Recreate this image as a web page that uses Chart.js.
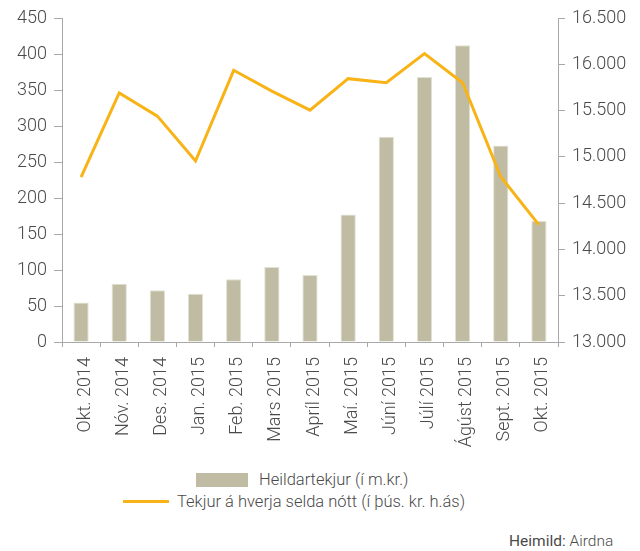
<!DOCTYPE html>
<html lang="is">
<head>
<meta charset="utf-8">
<title>Heildartekjur og tekjur á selda nótt</title>
<script src="https://cdn.jsdelivr.net/npm/chart.js@4.4.1/dist/chart.umd.min.js"></script>
<style>
  body { margin: 0; background: #fff; font-family: Roboto, "Noto Sans", sans-serif; color: #4a4a4a; }
  #wrap { position: relative; width: 640px; height: 551px; }
  #chartBox { position: absolute; left: 0; top: 0; width: 640px; height: 460px; }
  .legend-row { position: absolute; display: flex; align-items: center; font-size: 16.5px; font-weight: 300; white-space: nowrap; }
  .swatch-bar { width: 52px; height: 14px; background: #bfbca3; margin-right: 11px; }
  .swatch-line { width: 46px; height: 3px; background: #f8b316; margin-right: 8px; }
  #source { position: absolute; left: 509px; top: 532px; font-size: 15.5px; color: #4a4a4a; }
  #source span { font-weight: 300; }
</style>
</head>
<body>
<div id="wrap">
  <div id="chartBox"><canvas id="chart"></canvas></div>
  <div class="legend-row" style="left:196px; top:470px;"><div class="swatch-bar"></div>Heildartekjur (í m.kr.)</div>
  <div class="legend-row" style="left:123px; top:492px;"><div class="swatch-line"></div>Tekjur á hverja selda nótt (í þús. kr. h.ás)</div>
  <div id="source">Heimild: <span>Airdna</span></div>
</div>
<script>
// Mánuðir
const months = [
  'Okt. 2014', 'Nóv. 2014', 'Des. 2014', 'Jan. 2015', 'Feb. 2015', 'Mars 2015', 'Apríl 2015',
  'Maí. 2015', 'Júní 2015', 'Júlí 2015', 'Ágúst 2015', 'Sept. 2015', 'Okt. 2015',
];
// Heildartekjur (m.kr.), vinstri ás
const totalRevenue = [55, 81, 72, 67, 87, 104, 93, 177, 285, 368, 412, 273, 168];
// Tekjur á hverja selda nótt (þús. kr.), hægri ás
const revenuePerNight = [14780, 15690, 15440, 14955, 15935, 15710, 15505, 15845, 15800, 16115, 15800, 14785, 14265];

const axisColor = '#a8a8a8';
const textColor = '#4a4a4a';
const tickFont = { family: 'Roboto', size: 18, weight: 300 };

// 16500 -> "16.500"
const formatThousands = (v) => String(v).replace(/\B(?=(\d{3})+(?!\d))/g, '.');

new Chart(document.getElementById('chart'), {
  type: 'bar',
  data: {
    labels: months,
    datasets: [
      // Gul lína
      {
        type: 'line',
        label: 'Tekjur á hverja selda nótt (í þús. kr. h.ás)',
        data: revenuePerNight,
        yAxisID: 'y2',
        borderColor: '#f8b316',
        borderWidth: 3,
        tension: 0,
        pointRadius: 0,
        fill: false,
        order: 0,
      },
      // Súlur
      {
        type: 'bar',
        label: 'Heildartekjur (í m.kr.)',
        data: totalRevenue,
        yAxisID: 'y',
        backgroundColor: '#bfbca3',
        borderColor: '#e3e1d3',
        borderWidth: 1,
        categoryPercentage: 1,
        barPercentage: 0.4,
        order: 1,
      },
    ],
  },
  options: {
    responsive: true,
    maintainAspectRatio: false,
    animation: false,
    layout: { padding: { top: 18, left: 0, right: 0, bottom: 0 } },
    scales: {
      x: {
        grid: { offset: true, drawOnChartArea: false, tickLength: 5, color: axisColor },
        border: { color: axisColor },
        ticks: {
          color: textColor,
          font: { family: 'Roboto', size: 18, weight: 300 },
          minRotation: 90,
          maxRotation: 90,
          padding: 10,
          labelOffset: 4,
          autoSkip: false,
        },
        afterFit: (scale) => { scale.height = 118; },
      },
      y: {
        position: 'left',
        min: 0,
        max: 450,
        grid: { drawOnChartArea: false, tickLength: 8, color: axisColor },
        border: { color: axisColor },
        ticks: { stepSize: 50, color: textColor, font: tickFont, padding: 7 },
        afterFit: (scale) => { scale.width = 62; },
      },
      y2: {
        position: 'right',
        min: 13000,
        max: 16500,
        grid: { drawOnChartArea: false, tickLength: 7, color: axisColor },
        border: { color: axisColor },
        ticks: {
          stepSize: 500,
          color: textColor,
          font: tickFont,
          padding: 7,
          callback: (value) => formatThousands(value),
        },
        afterFit: (scale) => { scale.width = 82; },
      },
    },
    plugins: {
      legend: { display: false },
      tooltip: { enabled: false },
    },
  },
});
</script>
</body>
</html>
